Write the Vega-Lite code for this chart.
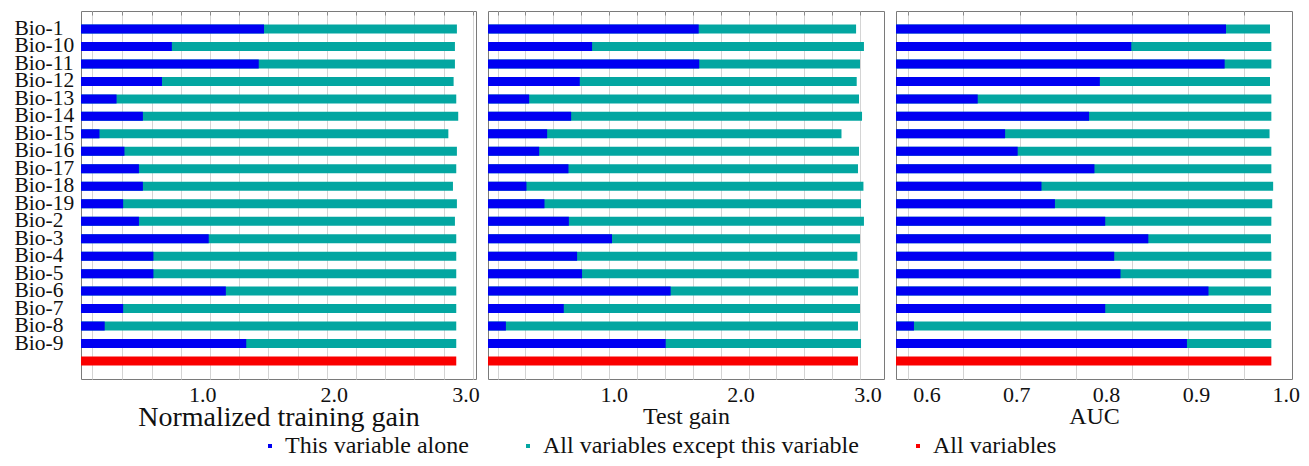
{
  "$schema": "https://vega.github.io/schema/vega-lite/v6.json",
  "padding": {"left": 13, "top": 10, "right": 10, "bottom": 0},
  "bounds": "flush",
  "spacing": 12,
  "background": "white",
  "config": {
    "view": {"stroke": "#7a7a7a", "strokeWidth": 1},
    "axis": {"labelFont": "Liberation Serif", "titleFont": "Liberation Serif", "labelColor": "#111", "titleColor": "#111", "titleFontWeight": "normal", "gridColor": "#d4d4d4", "gridWidth": 1, "tickColor": "#8a8a8a"},
    "legend": {"labelFont": "Liberation Serif", "labelFontSize": 24, "labelColor": "#111", "labelLimit": 600}
  },
  "datasets": {
    "rows": [
      {"var": "Bio-1", "series": "All variables except this variable", "train": 2.935, "test": 2.91, "auc": 0.9825},
      {"var": "Bio-10", "series": "All variables except this variable", "train": 2.92, "test": 2.972, "auc": 0.984},
      {"var": "Bio-11", "series": "All variables except this variable", "train": 2.92, "test": 2.941, "auc": 0.984},
      {"var": "Bio-12", "series": "All variables except this variable", "train": 2.91, "test": 2.915, "auc": 0.9825},
      {"var": "Bio-13", "series": "All variables except this variable", "train": 2.93, "test": 2.933, "auc": 0.984},
      {"var": "Bio-14", "series": "All variables except this variable", "train": 2.945, "test": 2.957, "auc": 0.984},
      {"var": "Bio-15", "series": "All variables except this variable", "train": 2.87, "test": 2.795, "auc": 0.982},
      {"var": "Bio-16", "series": "All variables except this variable", "train": 2.935, "test": 2.933, "auc": 0.984},
      {"var": "Bio-17", "series": "All variables except this variable", "train": 2.93, "test": 2.925, "auc": 0.984},
      {"var": "Bio-18", "series": "All variables except this variable", "train": 2.905, "test": 2.968, "auc": 0.986},
      {"var": "Bio-19", "series": "All variables except this variable", "train": 2.935, "test": 2.949, "auc": 0.985},
      {"var": "Bio-2", "series": "All variables except this variable", "train": 2.92, "test": 2.972, "auc": 0.984},
      {"var": "Bio-3", "series": "All variables except this variable", "train": 2.93, "test": 2.941, "auc": 0.9835},
      {"var": "Bio-4", "series": "All variables except this variable", "train": 2.93, "test": 2.92, "auc": 0.984},
      {"var": "Bio-5", "series": "All variables except this variable", "train": 2.93, "test": 2.931, "auc": 0.984},
      {"var": "Bio-6", "series": "All variables except this variable", "train": 2.93, "test": 2.925, "auc": 0.9835},
      {"var": "Bio-7", "series": "All variables except this variable", "train": 2.93, "test": 2.941, "auc": 0.984},
      {"var": "Bio-8", "series": "All variables except this variable", "train": 2.93, "test": 2.925, "auc": 0.9835},
      {"var": "Bio-9", "series": "All variables except this variable", "train": 2.93, "test": 2.949, "auc": 0.984},
      {"var": "All", "series": "All variables", "train": 2.93, "test": 2.925, "auc": 0.984},
      {"var": "Bio-1", "series": "This variable alone", "train": 1.47, "test": 1.67, "auc": 0.9335},
      {"var": "Bio-10", "series": "This variable alone", "train": 0.77, "test": 0.83, "auc": 0.828},
      {"var": "Bio-11", "series": "This variable alone", "train": 1.43, "test": 1.674, "auc": 0.932},
      {"var": "Bio-12", "series": "This variable alone", "train": 0.695, "test": 0.733, "auc": 0.793},
      {"var": "Bio-13", "series": "This variable alone", "train": 0.35, "test": 0.334, "auc": 0.657},
      {"var": "Bio-14", "series": "This variable alone", "train": 0.55, "test": 0.665, "auc": 0.781},
      {"var": "Bio-15", "series": "This variable alone", "train": 0.22, "test": 0.476, "auc": 0.6875},
      {"var": "Bio-16", "series": "This variable alone", "train": 0.41, "test": 0.413, "auc": 0.7015},
      {"var": "Bio-17", "series": "This variable alone", "train": 0.52, "test": 0.644, "auc": 0.787},
      {"var": "Bio-18", "series": "This variable alone", "train": 0.55, "test": 0.313, "auc": 0.728},
      {"var": "Bio-19", "series": "This variable alone", "train": 0.40, "test": 0.455, "auc": 0.743},
      {"var": "Bio-2", "series": "This variable alone", "train": 0.52, "test": 0.647, "auc": 0.799},
      {"var": "Bio-3", "series": "This variable alone", "train": 1.05, "test": 0.987, "auc": 0.847},
      {"var": "Bio-4", "series": "This variable alone", "train": 0.63, "test": 0.712, "auc": 0.809},
      {"var": "Bio-5", "series": "This variable alone", "train": 0.63, "test": 0.751, "auc": 0.816},
      {"var": "Bio-6", "series": "This variable alone", "train": 1.18, "test": 1.449, "auc": 0.914},
      {"var": "Bio-7", "series": "This variable alone", "train": 0.40, "test": 0.607, "auc": 0.799},
      {"var": "Bio-8", "series": "This variable alone", "train": 0.26, "test": 0.151, "auc": 0.586},
      {"var": "Bio-9", "series": "This variable alone", "train": 1.335, "test": 1.41, "auc": 0.89}
    ]
  },
  "data": {"name": "rows"},
  "hconcat": [
    {
      "width": 395, "height": 368,
      "layer": [
        {
          "transform": [{"filter": "datum.series !== 'This variable alone'"}],
          "mark": {"type": "bar", "clip": true},
          "encoding": {
            "y": {"field": "var", "type": "nominal", "scale": {"domain": ["Bio-1","Bio-10","Bio-11","Bio-12","Bio-13","Bio-14","Bio-15","Bio-16","Bio-17","Bio-18","Bio-19","Bio-2","Bio-3","Bio-4","Bio-5","Bio-6","Bio-7","Bio-8","Bio-9","All"], "paddingInner": 0.485, "paddingOuter": 0.773},
              "axis": {"title": null, "ticks": false, "domain": false, "labelFontSize": 21.5, "labelAlign": "left", "labelPadding": 67, "labelOverlap": false, "labelExpr": "datum.value === 'All' ? '' : datum.value"}},
            "x": {"field": "train", "type": "quantitative", "stack": null, "scale": {"domain": [0.08, 3.08], "zero": false, "nice": false},
              "axis": {"orient": "bottom", "values": [1, 2, 3], "format": ".1f", "grid": false, "ticks": false, "domain": false, "labelFontSize": 22, "labelPadding": 5, "title": "Normalized training gain", "titleFontSize": 28, "titlePadding": -2}},
            "color": {"field": "series", "type": "nominal",
              "scale": {"domain": ["This variable alone", "All variables except this variable", "All variables"], "range": ["#0000F2", "#03A6A1", "#FA0000"]},
              "legend": {"title": null, "orient": "none", "direction": "horizontal", "columns": 3, "legendX": 177, "legendY": 423, "symbolType": "square", "symbolSize": 16, "labelOffset": 3, "columnPadding": 47}}
          }
        },
        {
          "transform": [{"filter": "datum.series === 'This variable alone'"}],
          "mark": {"type": "bar", "clip": true},
          "encoding": {
            "y": {"field": "var", "type": "nominal"},
            "x": {"field": "train", "type": "quantitative", "stack": null,
              "axis": {"orient": "top", "values": [0.161, 0.389, 0.617, 0.839, 1.06, 1.28, 1.50, 1.728, 1.948, 2.168, 2.389, 2.608, 2.836, 3.056], "labels": false, "grid": true, "ticks": true, "tickSize": -4, "domain": false, "title": null}},
            "color": {"field": "series", "type": "nominal",
              "scale": {"domain": ["This variable alone", "All variables except this variable", "All variables"], "range": ["#0000F2", "#03A6A1", "#FA0000"]}}
          }
        }
      ],
      "resolve": {"axis": {"x": "independent"}}
    },
    {
      "width": 396, "height": 368,
      "layer": [
        {
          "transform": [{"filter": "datum.series !== 'This variable alone'"}],
          "mark": {"type": "bar", "clip": true},
          "encoding": {
            "y": {"field": "var", "type": "nominal", "scale": {"domain": ["Bio-1","Bio-10","Bio-11","Bio-12","Bio-13","Bio-14","Bio-15","Bio-16","Bio-17","Bio-18","Bio-19","Bio-2","Bio-3","Bio-4","Bio-5","Bio-6","Bio-7","Bio-8","Bio-9","All"], "paddingInner": 0.485, "paddingOuter": 0.773}, "axis": null},
            "x": {"field": "test", "type": "quantitative", "stack": null, "scale": {"domain": [0.01, 3.13], "zero": false, "nice": false},
              "axis": {"orient": "bottom", "values": [1, 2, 3], "format": ".1f", "grid": false, "ticks": false, "domain": false, "labelFontSize": 22, "labelPadding": 5, "title": "Test gain", "titleFontSize": 24, "titlePadding": -1}},
            "color": {"field": "series", "type": "nominal",
              "scale": {"domain": ["This variable alone", "All variables except this variable", "All variables"], "range": ["#0000F2", "#03A6A1", "#FA0000"]}}
          }
        },
        {
          "transform": [{"filter": "datum.series === 'This variable alone'"}],
          "mark": {"type": "bar", "clip": true},
          "encoding": {
            "y": {"field": "var", "type": "nominal"},
            "x": {"field": "test", "type": "quantitative", "stack": null,
              "axis": {"orient": "top", "values": [0.085, 0.305, 0.523, 0.746, 0.964, 1.184, 1.402, 1.625, 1.843, 2.063, 2.283, 2.503, 2.721, 2.944], "labels": false, "grid": true, "ticks": true, "tickSize": -4, "domain": false, "title": null}},
            "color": {"field": "series", "type": "nominal",
              "scale": {"domain": ["This variable alone", "All variables except this variable", "All variables"], "range": ["#0000F2", "#03A6A1", "#FA0000"]}}
          }
        }
      ],
      "resolve": {"axis": {"x": "independent"}}
    },
    {
      "width": 396, "height": 368,
      "layer": [
        {
          "transform": [{"filter": "datum.series !== 'This variable alone'"}],
          "mark": {"type": "bar", "clip": true},
          "encoding": {
            "y": {"field": "var", "type": "nominal", "scale": {"domain": ["Bio-1","Bio-10","Bio-11","Bio-12","Bio-13","Bio-14","Bio-15","Bio-16","Bio-17","Bio-18","Bio-19","Bio-2","Bio-3","Bio-4","Bio-5","Bio-6","Bio-7","Bio-8","Bio-9","All"], "paddingInner": 0.485, "paddingOuter": 0.773}, "axis": null},
            "x": {"field": "auc", "type": "quantitative", "stack": null, "scale": {"domain": [0.566, 1.007], "zero": false, "nice": false},
              "axis": {"orient": "bottom", "values": [0.6, 0.7, 0.8, 0.9, 1.0], "format": ".1f", "grid": false, "ticks": false, "domain": false, "labelFontSize": 22, "labelPadding": 5, "title": "AUC", "titleFontSize": 24, "titlePadding": -1}},
            "color": {"field": "series", "type": "nominal",
              "scale": {"domain": ["This variable alone", "All variables except this variable", "All variables"], "range": ["#0000F2", "#03A6A1", "#FA0000"]}}
          }
        },
        {
          "transform": [{"filter": "datum.series === 'This variable alone'"}],
          "mark": {"type": "bar", "clip": true},
          "encoding": {
            "y": {"field": "var", "type": "nominal"},
            "x": {"field": "auc", "type": "quantitative", "stack": null,
              "axis": {"orient": "top", "values": [0.579, 0.641, 0.704, 0.767, 0.829, 0.891, 0.953], "labels": false, "grid": true, "ticks": true, "tickSize": -4, "domain": false, "title": null}},
            "color": {"field": "series", "type": "nominal",
              "scale": {"domain": ["This variable alone", "All variables except this variable", "All variables"], "range": ["#0000F2", "#03A6A1", "#FA0000"]}}
          }
        }
      ],
      "resolve": {"axis": {"x": "independent"}}
    }
  ]
}
